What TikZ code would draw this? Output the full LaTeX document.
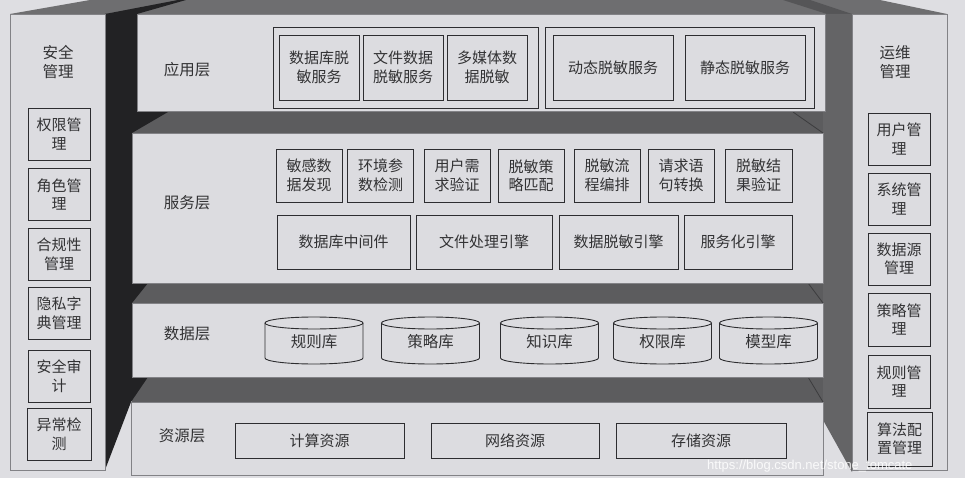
\documentclass[tikz,border=0pt]{standalone}
\usepackage{fontspec}
\setmainfont{Noto Sans CJK SC}
\newfontfamily\wmfont{Liberation Sans}
\definecolor{bgc}{RGB}{222,222,226}
\definecolor{pnlc}{RGB}{220,220,224}
\definecolor{edgec}{RGB}{130,130,134}
\definecolor{boxc}{RGB}{45,45,48}
\definecolor{txtc}{RGB}{50,50,52}
\definecolor{shelfc}{RGB}{92,92,94}
\definecolor{roofc}{RGB}{110,110,112}
\definecolor{bandc}{RGB}{34,34,36}
\definecolor{rbandc}{RGB}{100,100,102}
\definecolor{slantc}{RGB}{60,60,62}

% one database cylinder of the data layer
\newcommand{\dbcyl}[3]{%
  \draw[dbline] (#2-49,323) -- (#2-49,358)
    arc[start angle=180,end angle=0,x radius=49,y radius=6] -- (#2+49,323);
  \draw[dbline] (#2,323) ellipse[x radius=49,y radius=6];
  \node[lbl] (#1) at (#2,342) {#3};}

\begin{document}
\begin{tikzpicture}[x=1pt,y=-1pt,
  box/.style={draw=boxc,line width=0.9pt,inner sep=0pt,align=center,
    font=\fontsize{15}{18.5}\selectfont,text=txtc},
  grp/.style={draw=boxc,line width=0.9pt,inner sep=0pt},
  lbl/.style={inner sep=0pt,align=center,font=\fontsize{15.5}{19}\selectfont,text=txtc},
  dbline/.style={draw=boxc,line width=0.9pt},
  pnl/.style={fill=pnlc,draw=edgec,line width=0.5pt}]
\useasboundingbox (0,0) rectangle (965,478);
\fill[bgc] (0,0) rectangle (965,478);

% roof and side bands
\fill[roofc] (10,14) -- (90,0) -- (880,0) -- (947,14) -- cycle;
\fill[rbandc!85!black] (783,0) -- (810,0) -- (852,14) -- (827,14) -- cycle;
\fill[rbandc] (823,14) -- (852,14) -- (852,472) -- (823,420) -- cycle;
\fill[shelfc] (132,111) rectangle (823,133);
\fill[shelfc] (132,283) rectangle (823,303);
\fill[shelfc] (132,377) rectangle (823,402);
\fill[bandc] (105,14) -- (178,0) -- (186,0) -- (137,14) -- cycle;
\fill[bandc] (105,14) -- (137,14) -- (137,112) -- (168,112) -- (132,133)
  -- (132,283) -- (148,283) -- (132,303) -- (132,377) -- (148,377)
  -- (131,402) -- (105,470) -- cycle;
\draw[slantc,line width=0.8pt] (793,112) -- (823,133);
\draw[slantc,line width=0.8pt] (808,283) -- (823,303);
\draw[slantc,line width=0.8pt] (808,377) -- (823,402);

% panels
\draw[pnl] (10,14) rectangle (105,470);
\draw[pnl] (852,14) rectangle (947,470);
\draw[pnl] (137,14) rectangle (825,111);
\draw[pnl] (132,133) rectangle (823,283);
\draw[pnl] (132,303) rectangle (823,377);
\draw[pnl] (131,402) rectangle (823,475);

% left column
\node[lbl] (aqgl) at (58,62) {安全\\管理};
\node[box,minimum width=62,minimum height=52] (qxgl) at (59,134) {权限管\\理};
\node[box,minimum width=62,minimum height=52] (jsgl) at (59,194.5) {角色管\\理};
\node[box,minimum width=62,minimum height=52] (hgx) at (59,254.5) {合规性\\管理};
\node[box,minimum width=62,minimum height=52] (yszd) at (59,313.5) {隐私字\\典管理};
\node[box,minimum width=62,minimum height=52] (aqsj) at (59,376) {安全审\\计};
\node[box,minimum width=64,minimum height=52] (ycjc) at (59,434) {异常检\\测};

% right column
\node[lbl] (ywgl) at (895,62) {运维\\管理};
\node[box,minimum width=62,minimum height=52] (yhgl) at (899,139) {用户管\\理};
\node[box,minimum width=62,minimum height=52] (xtgl) at (899,199) {系统管\\理};
\node[box,minimum width=62,minimum height=52] (sjygl) at (899,259) {数据源\\管理};
\node[box,minimum width=62,minimum height=53] (clgl) at (899,319.5) {策略管\\理};
\node[box,minimum width=62,minimum height=53] (gzgl) at (899,381.5) {规则管\\理};
\node[box,minimum width=65,minimum height=54] (sfpz) at (899.5,439) {算法配\\置管理};

% application layer
\node[lbl] (yyc) at (187,70) {应用层};
\node[grp,minimum width=265,minimum height=81] (yyg1) at (405.5,67.5) {};
\node[grp,minimum width=269,minimum height=81] (yyg2) at (679.5,67.5) {};
\node[box,minimum width=80,minimum height=65] (sjktm) at (319,67.5) {数据库脱\\敏服务};
\node[box,minimum width=80,minimum height=65] (wjtm) at (403,67.5) {文件数据\\脱敏服务};
\node[box,minimum width=80,minimum height=65] (dmttm) at (487,67.5) {多媒体数\\据脱敏};
\node[box,minimum width=120,minimum height=65] (dttm) at (613,67.5) {动态脱敏服务};
\node[box,minimum width=120,minimum height=65] (jttm) at (745,67.5) {静态脱敏服务};

% service layer
\node[lbl] (fwc) at (187,203) {服务层};
\node[box,minimum width=66,minimum height=53] (mgfx) at (309,175.5) {敏感数\\据发现};
\node[box,minimum width=66,minimum height=53] (hjjc) at (380.5,175.5) {环境参\\数检测};
\node[box,minimum width=66,minimum height=53] (yhyz) at (457,175.5) {用户需\\求验证};
\node[box,minimum width=66,minimum height=53] (clpp) at (531,175.5) {脱敏策\\略匹配};
\node[box,minimum width=66,minimum height=53] (lcbp) at (607,175.5) {脱敏流\\程编排};
\node[box,minimum width=66,minimum height=53] (yjzh) at (681,175.5) {请求语\\句转换};
\node[box,minimum width=67,minimum height=53] (jgyz) at (758.5,175.5) {脱敏结\\果验证};
\node[box,minimum width=133,minimum height=54] (zjj) at (343.5,242) {数据库中间件};
\node[box,minimum width=136,minimum height=54] (wjyq) at (484,242) {文件处理引擎};
\node[box,minimum width=119,minimum height=54] (tmyq) at (618.5,242) {数据脱敏引擎};
\node[box,minimum width=108,minimum height=54] (fwyq) at (738,242) {服务化引擎};

% data layer
\node[lbl] (sjc) at (187,334) {数据层};
\dbcyl{gzk}{314}{规则库}
\dbcyl{clk}{430.5}{策略库}
\dbcyl{zsk}{549.5}{知识库}
\dbcyl{qxk}{662.5}{权限库}
\dbcyl{mxk}{768.5}{模型库}

% resource layer
\node[lbl] (zyc) at (182,436) {资源层};
\node[box,minimum width=169,minimum height=35] (jszy) at (319.5,440.5) {计算资源};
\node[box,minimum width=168,minimum height=35] (wlzy) at (515,440.5) {网络资源};
\node[box,minimum width=170,minimum height=35] (cczy) at (701,440.5) {存储资源};

\node[anchor=west,inner sep=0pt,text=white,opacity=0.85,
  font=\wmfont\fontsize{13}{15}\selectfont] (wm) at (707,466)
  {https://blog.csdn.net/stone\_tomcate};
\end{tikzpicture}
\end{document}
